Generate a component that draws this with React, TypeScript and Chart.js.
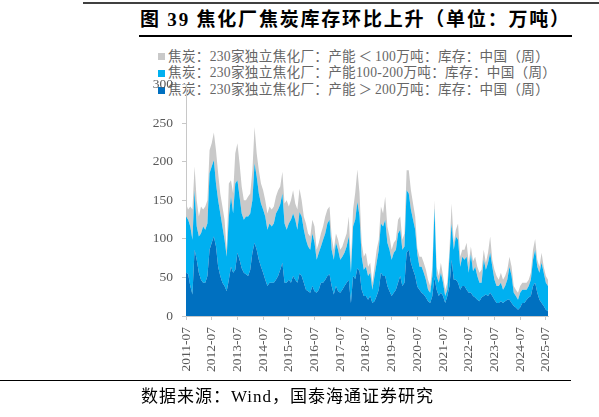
import React, { useEffect, useRef } from 'react';
import { Chart, registerables } from 'chart.js';

Chart.register(...registerables);

// Monthly categories from 2011-07 to 2025-08
const categories: string[] = [];
for (let i = 0; i < 170; i++) {
  const m = 6 + i;
  const y = 2011 + Math.floor(m / 12);
  const mm = (m % 12) + 1;
  categories.push(`${y}-${mm < 10 ? '0' + mm : mm}`);
}

const xTickLabels = [
  '2011-07', '2012-07', '2013-07', '2014-07', '2015-07', '2016-07', '2017-07', '2018-07',
  '2019-07', '2020-07', '2021-07', '2022-07', '2023-07', '2024-07', '2025-07',
];

const yTicks = [0, 50, 100, 150, 200, 250, 300];

const seriesNames = [
  '焦炭：230家独立焦化厂：产能＜100万吨：库存：中国（周）',
  '焦炭：230家独立焦化厂：产能100-200万吨：库存：中国（周）',
  '焦炭：230家独立焦化厂：产能＞200万吨：库存：中国（周）',
];

// 产能<100万吨
const smallPlants = [
  17, 13, 26, 39, 31, 34, 26, 35, 22, 30, 30, 30,
  30, 36, 43, 35, 26, 26, 26, 9, 43, 21, 26, 39,
  48, 43, 35, 25, 21, 26, 26, 39, 47, 30, 30, 26,
  25, 21, 21, 22, 22, 22, 22, 25, 23, 28, 26, 38,
  22, 25, 30, 21, 26, 30, 21, 17, 21, 17, 17, 18,
  21, 13, 13, 17, 17, 22, 18, 17, 17, 13, 12, 13,
  13, 13, 17, 17, 26, 13, 22, 35, 42, 30, 18, 17,
  18, 12, 13, 9, 12, 17, 13, 22, 17, 30, 21, 17,
  13, 13, 13, 18, 17, 13, 17, 26, 30, 25, 21, 17,
  8, 13, 13, 13, 13, 13, 9, 12, 10, 12, 9, 13,
  9, 8, 9, 9, 26, 9, 9, 21, 13, 9, 13, 18,
  13, 10, 13, 13, 12, 13, 17, 13, 9, 13, 21, 9,
  13, 13, 8, 13, 13, 13, 13, 13, 12, 9, 8, 9,
  9, 9, 9, 9, 8, 9, 13, 14, 9, 8, 13, 8,
  9, 8,
];

// 产能100-200万吨
const midPlants = [
  73, 71, 77, 71, 77, 43, 47, 60, 73, 69, 68, 99,
  99, 99, 82, 86, 81, 73, 60, 45, 82, 91, 77, 112,
  94, 82, 71, 69, 75, 77, 73, 68, 103, 95, 86, 82,
  82, 82, 73, 77, 73, 77, 86, 86, 85, 90, 77, 69,
  73, 82, 81, 78, 69, 80, 77, 69, 65, 58, 56, 68,
  63, 43, 48, 47, 56, 60, 68, 71, 47, 45, 56, 54,
  43, 43, 43, 47, 56, 39, 64, 77, 86, 72, 43, 34,
  38, 31, 30, 17, 33, 43, 52, 64, 64, 73, 56, 54,
  47, 52, 52, 64, 60, 47, 47, 81, 73, 69, 65, 60,
  42, 30, 34, 28, 23, 15, 13, 26, 90, 18, 17, 26,
  17, 9, 8, 38, 47, 39, 56, 56, 30, 38, 34, 43,
  26, 50, 32, 40, 31, 24, 19, 47, 32, 43, 52, 38,
  26, 22, 22, 24, 17, 20, 26, 43, 35, 17, 15, 13,
  19, 17, 17, 13, 15, 21, 34, 43, 34, 35, 52, 43,
  35, 33,
];

// 产能>200万吨
const largePlants = [
  56, 54, 39, 28, 86, 73, 56, 47, 43, 43, 52, 86,
  95, 103, 90, 64, 52, 43, 39, 32, 47, 64, 56, 60,
  82, 73, 62, 56, 54, 52, 60, 82, 95, 86, 73, 64,
  56, 47, 39, 43, 43, 43, 47, 52, 60, 69, 43, 43,
  47, 43, 52, 47, 43, 55, 52, 43, 34, 32, 30, 39,
  32, 30, 34, 43, 43, 47, 52, 54, 39, 28, 39, 32,
  30, 34, 39, 43, 47, 17, 52, 48, 62, 58, 34, 26,
  26, 21, 26, 17, 19, 26, 34, 56, 52, 52, 39, 32,
  26, 30, 34, 43, 52, 39, 43, 82, 86, 69, 60, 52,
  38, 34, 30, 28, 24, 19, 17, 26, 50, 34, 26, 30,
  26, 17, 26, 39, 73, 47, 47, 43, 34, 39, 39, 34,
  30, 30, 26, 24, 21, 19, 24, 26, 28, 26, 30, 26,
  21, 17, 17, 19, 17, 19, 21, 21, 17, 13, 11, 8,
  11, 17, 17, 21, 24, 26, 39, 43, 30, 21, 17, 13,
  8, 6,
];

const colors = ['#c9c9c9', '#00b0f0', '#0070c0'];

const serif = "'Liberation Serif', 'Times New Roman', 'Noto Sans CJK SC', serif";
const tickFont = { family: serif, size: 13.5 };
const tickColor = '#595959';
const axisColor = '#c8c8c8';

function LegendText({ text }: { text: string }) {
  const parts = text.split(/([＜＞])/);
  return (
    <>
      {parts.map((p, i) =>
        p === '＜' || p === '＞' ? (
          <span key={i} style={{ margin: '0 2.5px' }}>{p}</span>
        ) : (
          <span key={i}>{p}</span>
        )
      )}
    </>
  );
}

export default function App() {
  const ref = useRef<HTMLCanvasElement>(null);

  useEffect(() => {
    if (!ref.current) return;
    const chart = new Chart(ref.current, {
      type: 'line',
      data: {
        labels: categories,
        datasets: [
          {
            label: seriesNames[2],
            data: largePlants,
            backgroundColor: colors[2],
            borderWidth: 0,
            pointRadius: 0,
            fill: 'origin',
          },
          {
            label: seriesNames[1],
            data: midPlants,
            backgroundColor: colors[1],
            borderWidth: 0,
            pointRadius: 0,
            fill: '-1',
          },
          {
            label: seriesNames[0],
            data: smallPlants,
            backgroundColor: colors[0],
            borderWidth: 0,
            pointRadius: 0,
            fill: '-1',
          },
        ],
      },
      options: {
        animation: false,
        responsive: false,
        maintainAspectRatio: false,
        layout: { padding: { left: 136, right: 51, top: 84.7, bottom: 0 } },
        plugins: {
          legend: { display: false },
          title: { display: false },
          tooltip: { enabled: false },
        },
        elements: { line: { tension: 0 } },
        scales: {
          x: {
            type: 'category',
            offset: false,
            grid: {
              display: true,
              drawOnChartArea: false,
              drawTicks: true,
              tickLength: 4,
              color: axisColor,
              offset: false,
            },
            border: { color: axisColor },
            ticks: {
              autoSkip: false,
              maxRotation: 90,
              minRotation: 90,
              padding: 7,
              font: tickFont,
              color: tickColor,
            },
            afterBuildTicks: (scale: any) => {
              scale.ticks = scale.ticks.filter((t: any) =>
                xTickLabels.includes(categories[t.value])
              );
            },
            afterFit: (scale: any) => {
              scale.height = 101;
            },
          },
          y: {
            stacked: true,
            min: yTicks[0],
            max: yTicks[yTicks.length - 1],
            grid: {
              display: true,
              drawOnChartArea: false,
              drawTicks: true,
              tickLength: 4,
              color: axisColor,
            },
            border: { color: axisColor },
            ticks: {
              stepSize: 50,
              padding: 9,
              autoSkip: false,
              font: tickFont,
              color: tickColor,
            },
            afterFit: (scale: any) => {
              scale.width = 50;
            },
          },
        },
      },
    });
    return () => chart.destroy();
  }, []);

  const legendRows = [
    { name: seriesNames[0], color: colors[0], cy: 56.7 },
    { name: seriesNames[1], color: colors[1], cy: 73 },
    { name: seriesNames[2], color: colors[2], cy: 90 },
  ];

  return (
    <div
      style={{
        position: 'absolute',
        left: 0,
        top: 0,
        width: 599,
        height: 417,
        background: '#ffffff',
        overflow: 'hidden',
      }}
    >
      <div style={{ position: 'absolute', left: 83, top: 2, width: 516, height: 2, background: '#404040' }} />
      <div
        style={{
          position: 'absolute',
          left: 140,
          top: 10,
          fontFamily: "'Liberation Serif', 'Noto Sans CJK SC', serif",
          fontWeight: 'bold',
          fontSize: 19,
          lineHeight: '20px',
          letterSpacing: 1.8,
          color: '#000',
          whiteSpace: 'nowrap',
        }}
      >
        图 39 焦化厂焦炭库存环比上升（单位：万吨）
      </div>
      <div style={{ position: 'absolute', left: 139, top: 35, width: 433, height: 1.5, background: '#000' }} />
      {legendRows.map((r) => (
        <div
          key={r.name}
          style={{
            position: 'absolute',
            left: 158,
            top: r.cy - 8,
            height: 16,
            display: 'flex',
            alignItems: 'center',
            whiteSpace: 'nowrap',
          }}
        >
          <div style={{ width: 7, height: 7, background: r.color, marginRight: 3 }} />
          <span
            style={{
              fontFamily: serif,
              fontSize: 13.6,
              lineHeight: '16px',
              letterSpacing: 0.3,
              color: '#666666',
            }}
          >
            <LegendText text={r.name} />
          </span>
        </div>
      ))}
      <canvas
        ref={ref}
        width={599}
        height={417}
        style={{ position: 'absolute', left: 0, top: 0, width: 599, height: 417 }}
      />
      <div style={{ position: 'absolute', left: 0, top: 380, width: 571, height: 1, background: '#000' }} />
      <div
        style={{
          position: 'absolute',
          left: 141,
          top: 387,
          fontFamily: serif,
          fontSize: 17,
          lineHeight: '20px',
          letterSpacing: 1,
          color: '#000',
          whiteSpace: 'nowrap',
        }}
      >
        数据来源：Wind，国泰海通证券研究
      </div>
    </div>
  );
}
